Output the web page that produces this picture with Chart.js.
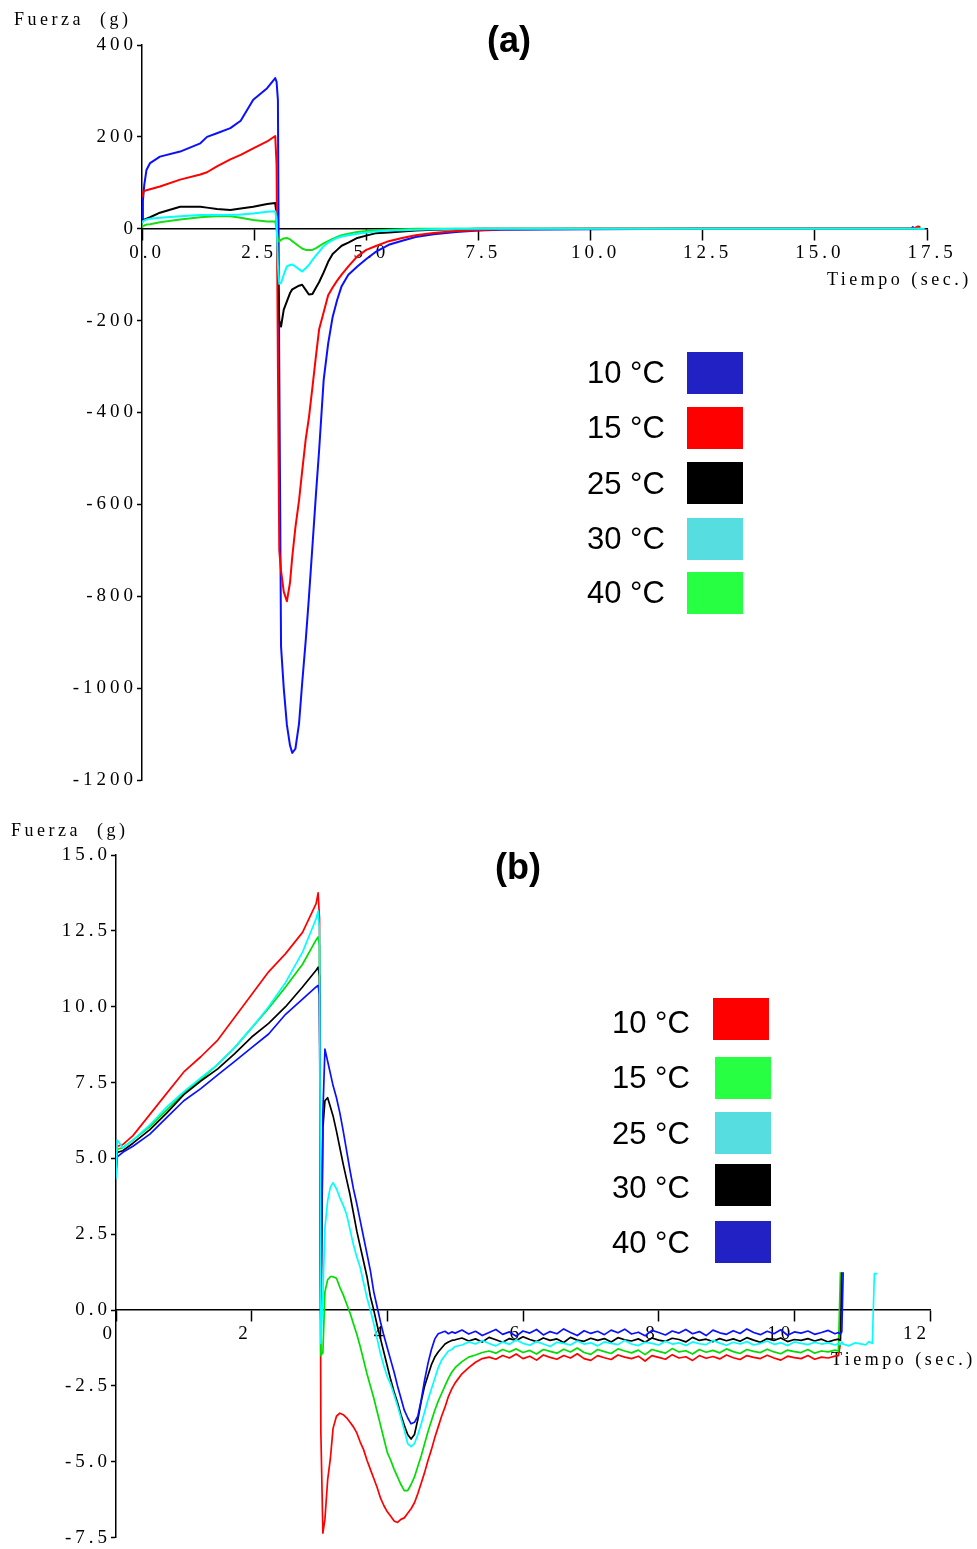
<!DOCTYPE html>
<html>
<head>
<meta charset="utf-8">
<script src="https://cdn.jsdelivr.net/npm/chart.js"></script>
<style>
  html, body { margin: 0; padding: 0; background: #fff; }
  canvas { display: block; }
</style>
</head>
<body>
<canvas id="chartA" width="977" height="800"></canvas>
<canvas id="chartB" width="977" height="749"></canvas>
<script>
/* ================= DATA (a) ================= */

const labelsA = ["10 °C", "15 °C", "25 °C", "30 °C", "40 °C"];

const timeA = [
  0, 0.02, 0.05, 0.1, 0.18, 0.4, 0.85, 1.3, 1.45, 1.67, 1.97, 2.2, 2.48, 2.79, 2.97,
  3.0, 3.03, 3.06, 3.1, 3.16, 3.23, 3.3, 3.35, 3.42, 3.5, 3.57, 3.65, 3.72, 3.8, 3.88, 3.95,
  4.05, 4.15, 4.25, 4.35, 4.45, 4.6, 4.8, 5.0, 5.2, 5.5, 5.8, 6.1, 6.5, 7.0, 7.5,
  8.0, 10.0, 12.5, 15.0, 17.0, 17.15, 17.2, 17.3, 17.35, 17.45
];

const a10 = [
  20, 60, 95, 128, 143, 157, 168, 186, 200, 208, 219, 235, 281, 306, 328,
  320, 280, -300, -910, -1000, -1080, -1125, -1141, -1132, -1078, -990, -896, -804, -690, -575, -480,
  -329, -250, -192, -155, -125, -100, -82, -66, -51, -35, -26, -18, -12, -7, -4,
  -2, -1, 0, 0, 0, 0, 5, null, null, null
];
const a15 = [
  70, 80, 82, 84, 86, 92, 107, 118, 123, 136, 151, 161, 175, 190, 202,
  140, -300, -700, -745, -790, -811, -770, -714, -650, -592, -528, -458, -412, -345, -275, -218,
  -182, -145, -128, -113, -100, -82, -60, -46, -38, -27, -20, -14, -9, -5, -3,
  -1, 0, 0, 0, 0, 0, 0, 5, 4, null
];
const a25 = [
  16, 18, 20, 22, 25, 35, 48, 48, 46, 43, 41, 44, 48, 54, 56,
  30, -100, -200, -213, -176, -158, -140, -132, -128, -124, -122, -133, -143, -142, -128, -116,
  -95, -72, -55, -46, -37, -30, -20, -15, -10, -8, -6, -4, -2, -1, 0,
  0, 0, 0, 0, 0, 0, 0, 0, null, null
];
const a30 = [
  14, 16, 18, 20, 22, 24, 27, 30, 30, 30, 30, 31, 33, 37, 38,
  20, -80, -120, -118, -100, -82, -79, -78, -82, -88, -93, -86, -79, -68, -58, -50,
  -38, -30, -25, -20, -17, -14, -11, -8, -6, -4, -3, -2, -1, 0, 0,
  0, 0, 0, 0, 0, 0, 0, 0, 0, 0
];
const a40 = [
  5, 6, 7, 9, 10, 14, 20, 25, 26, 27, 27, 24, 19, 16, 16,
  0, -24, -28, -24, -21, -20, -23, -27, -32, -38, -43, -46, -46, -46, -42, -38,
  -32, -27, -22, -18, -14, -11, -7, -5, -3, -2, -1, 0, 0, 0, 0,
  0, 0, 0, 0, 0, 0, 0, 0, 4, null
];

const xTicksA = [0, 2.5, 5, 7.5, 10, 12.5, 15, 17.5];
const xLabelsA = ["0.0", "2.5", "5.0", "7.5", "10.0", "12.5", "15.0", "17.5"];
const yTicksA = [-1200, -1000, -800, -600, -400, -200, 0, 200, 400];
const yLabelsA = ["-1200", "-1000", "-800", "-600", "-400", "-200", "0", "200", "400"];

/* ================= DATA (b) ================= */

const labelsB = ["10 °C", "15 °C", "25 °C", "30 °C", "40 °C"];

const timeB = [
  0, 0.02, 0.1, 0.25, 0.5, 0.75, 1.0, 1.25, 1.5, 1.75, 2.0, 2.25, 2.5, 2.75, 2.95, 2.98,
  3.0, 3.02, 3.05, 3.08, 3.12, 3.16,
  3.2, 3.25, 3.3, 3.35, 3.4, 3.45, 3.5, 3.55, 3.6, 3.65,
  3.7, 3.75, 3.8, 3.85, 3.9, 3.95, 4.0, 4.05, 4.1, 4.15,
  4.2, 4.25, 4.3, 4.35, 4.4, 4.45, 4.5, 4.55, 4.6, 4.65,
  4.7, 4.75, 4.8, 4.85, 4.9, 4.95, 5.0,
  5.1, 5.2, 5.3, 5.4, 5.5, 5.6, 5.7, 5.8, 5.9, 6.0,
  6.1, 6.2, 6.3, 6.4, 6.5, 6.6, 6.7, 6.8, 6.9, 7.0,
  7.1, 7.2, 7.3, 7.4, 7.5, 7.6, 7.7, 7.8, 7.9, 8.0,
  8.1, 8.2, 8.3, 8.4, 8.5, 8.6, 8.7, 8.8, 8.9, 9.0,
  9.1, 9.2, 9.3, 9.4, 9.5, 9.6, 9.7, 9.8, 9.9, 10.0,
  10.1, 10.2, 10.3, 10.4, 10.5, 10.6,
  10.65, 10.68, 10.7, 10.72, 10.8, 10.9, 11.0, 11.05, 11.1, 11.15, 11.18, 11.22
];

const b10 = [
  4.3, 5.4, 5.45, 5.75, 6.45, 7.15, 7.85, 8.35, 8.9, 9.65, 10.4, 11.15, 11.75, 12.45, 13.4, 13.75,
  12.9, -4.0, -7.35, -6.9, -5.6, -4.9,
  -3.9, -3.5, -3.4, -3.45, -3.55, -3.7, -3.85, -4.05, -4.35, -4.6,
  -4.95, -5.25, -5.55, -5.85, -6.2, -6.45, -6.65, -6.8, -6.95, -7.0,
  -6.9, -6.85, -6.7, -6.55, -6.35, -6.05, -5.7, -5.35, -4.95, -4.6,
  -4.2, -3.85, -3.5, -3.2, -2.85, -2.6, -2.4,
  -2.1, -1.9, -1.72, -1.6, -1.55, -1.62, -1.5, -1.58, -1.45, -1.6,
  -1.52, -1.65, -1.48, -1.56, -1.62, -1.5, -1.58, -1.44, -1.6, -1.66,
  -1.5, -1.57, -1.63, -1.48, -1.55, -1.6, -1.52, -1.68, -1.5, -1.56,
  -1.62, -1.47, -1.58, -1.54, -1.66, -1.5, -1.59, -1.53, -1.61, -1.48,
  -1.57, -1.63, -1.5, -1.56, -1.6, -1.49, -1.58, -1.65, -1.52, -1.57,
  -1.6, -1.5, -1.62, -1.55, -1.58, -1.52,
  -1.5, -1.1, null, null, null, null, null, null, null, null, null, null
];
const b15 = [
  4.4, 5.3, 5.35, 5.6, 6.05, 6.6, 7.15, 7.6, 8.1, 8.65, 9.3, 9.95, 10.65, 11.4, 12.2, 12.3,
  12.0, -1.5, -1.4, 0.6, 1.0, 1.1,
  1.1, 1.05, 0.75, 0.5, 0.2, -0.1, -0.45, -0.8, -1.2, -1.65,
  -2.1, -2.5, -2.9, -3.35, -3.8, -4.25, -4.7, -4.95, -5.25, -5.5,
  -5.75, -5.95, -5.95, -5.75, -5.5, -5.15, -4.8, -4.4, -4.0, -3.65,
  -3.3, -3.0, -2.75, -2.5, -2.25, -2.05, -1.9,
  -1.7, -1.55, -1.48, -1.4, -1.35, -1.42, -1.3, -1.38, -1.28, -1.4,
  -1.33, -1.45, -1.3, -1.36, -1.42, -1.29, -1.38, -1.25, -1.4, -1.46,
  -1.3, -1.37, -1.43, -1.28, -1.35, -1.41, -1.32, -1.47, -1.3, -1.36,
  -1.42, -1.27, -1.38, -1.34, -1.45, -1.3, -1.39, -1.33, -1.41, -1.28,
  -1.37, -1.43, -1.3, -1.36, -1.4, -1.29, -1.38, -1.44, -1.32, -1.37,
  -1.4, -1.3, -1.42, -1.35, -1.38, -1.32,
  -1.35, 1.25, null, null, null, null, null, null, null, null, null, null
];
const b25 = [
  4.3, 5.6, 5.35, 5.6, 6.1, 6.7, 7.2, 7.65, 8.1, 8.65, 9.3, 10.0, 10.8, 11.8, 12.9, 13.15,
  12.5, -1.1, 0.5, 2.7, 3.6, 4.05,
  4.2, 4.0, 3.7, 3.45, 3.15, 2.65, 2.15, 1.75, 1.4, 0.9,
  0.4, 0.0, -0.45, -0.95, -1.45, -1.85, -2.2, -2.45, -2.8, -3.15,
  -3.55, -3.95, -4.4, -4.5, -4.4, -4.1, -3.75, -3.35, -2.95, -2.6,
  -2.25, -1.9, -1.65, -1.5, -1.35, -1.3, -1.2,
  -1.15, -1.05, -1.12, -1.0, -1.1, -1.18, -1.05, -1.13, -0.98, -1.1,
  -1.16, -1.04, -1.12, -1.2, -1.06, -1.1, -1.15, -1.02, -1.12, -1.08,
  -1.18, -1.05, -1.1, -1.14, -1.0, -1.12, -1.17, -1.06, -1.1, -1.15,
  -1.03, -1.12, -1.08, -1.17, -1.05, -1.11, -1.14, -1.0, -1.09, -1.16,
  -1.06, -1.12, -1.04, -1.15, -1.1, -1.02, -1.13, -1.08, -1.17, -1.05,
  -1.1, -1.14, -1.06, -1.12, -1.08, -1.15,
  -1.1, -1.14, -1.05, -1.12, -1.18, -1.08, -1.12, -1.15, -1.04, -1.1, 1.2, 1.2
];
const b30 = [
  4.6, 5.2, 5.25, 5.5, 5.95, 6.5, 7.1, 7.55, 7.95, 8.45, 9.0, 9.45, 10.0, 10.65, 11.2, 11.3,
  11.0, -0.5, 6.0, 6.9, 7.0, 6.7,
  6.4, 5.9, 5.35, 4.8, 4.3, 3.8, 3.2, 2.6, 2.1, 1.6,
  1.1, 0.45, 0.0, -0.5, -0.95, -1.4, -1.85, -2.3, -2.7, -3.05,
  -3.45, -3.8, -4.1, -4.25, -4.1, -3.6, -3.0, -2.5, -2.15, -1.8,
  -1.55, -1.38, -1.25, -1.12, -1.05, -1.0, -0.98,
  -0.92, -1.02, -0.95, -1.05, -0.9, -0.98, -1.06, -0.94, -1.0, -0.88,
  -0.97, -1.04, -0.92, -1.0, -0.95, -1.07, -0.9, -0.99, -1.03, -0.93,
  -1.0, -0.94, -1.05, -0.91, -0.98, -1.02, -0.95, -1.06, -0.92, -0.99,
  -1.03, -0.93, -0.97, -1.05, -0.9, -1.0, -0.96, -1.04, -0.94, -1.01,
  -0.95, -1.03, -0.91, -0.99, -1.06, -0.94, -1.0, -0.92, -1.04, -0.97,
  -1.0, -0.94, -1.02, -0.96, -1.05, -0.98,
  -0.96, -1.0, 1.25, null, null, null, null, null, null, null, null, null
];
const b40 = [
  4.8, 5.05, 5.2, 5.4, 5.8, 6.35, 6.9, 7.3, 7.75, 8.2, 8.65, 9.1, 9.75, 10.25, 10.65, 10.7,
  10.4, -0.5, 6.5, 8.6, 8.2, 7.8,
  7.4, 7.0, 6.5, 5.9, 5.25, 4.6, 4.0, 3.5, 2.95, 2.4,
  1.85, 1.3, 0.6, 0.1, -0.4, -0.85, -1.25, -1.65, -2.05, -2.5,
  -2.9, -3.3, -3.55, -3.75, -3.7, -3.5, -2.95, -2.3, -1.75, -1.3,
  -0.95, -0.78, -0.74, -0.7, -0.78, -0.72, -0.76,
  -0.66, -0.79, -0.7, -0.84, -0.74, -0.64, -0.8, -0.72, -0.86, -0.69,
  -0.76, -0.64, -0.82, -0.71, -0.78, -0.62, -0.74, -0.84, -0.68, -0.77,
  -0.7, -0.81, -0.66, -0.75, -0.63, -0.79, -0.73, -0.85, -0.67, -0.74,
  -0.82, -0.69, -0.76, -0.64, -0.78, -0.71, -0.84, -0.66, -0.75, -0.8,
  -0.68, -0.77, -0.62, -0.74, -0.81, -0.7, -0.78, -0.65, -0.83, -0.72,
  -0.76, -0.69, -0.8, -0.74, -0.67, -0.78,
  -0.74, -0.79, -0.72, 1.25, null, null, null, null, null, null, null, null
];

const xTicksB = [0, 2, 4, 6, 8, 10, 12];
const xLabelsB = ["0", "2", "4", "6", "8", "10", "12"];
const yTicksB = [-7.5, -5, -2.5, 0, 2.5, 5, 7.5, 10, 12.5, 15];
const yLabelsB = ["-7.5", "-5.0", "-2.5", "0.0", "2.5", "5.0", "7.5", "10.0", "12.5", "15.0"];

/* ================= HELPERS ================= */

const SERIF = '"Liberation Serif", "Times New Roman", serif';
const SANS = '"Liberation Sans", Arial, sans-serif';

function points(times, vals){
  return times
    .map((t, i) => ({ x: t, y: vals[i] }))
    .filter(p => p.y !== null && p.y !== undefined);
}

function line(label, times, vals, color, legendColor, order, width){
  return {
    label: label,
    data: points(times, vals),
    borderColor: color,
    backgroundColor: color,
    legendColor: legendColor,
    borderWidth: width,
    pointRadius: 0,
    tension: 0,
    fill: false,
    order: order,
    borderJoinStyle: "round"
  };
}

function axisX(min, max, ticks, labels, align, offset){
  return {
    type: "linear",
    min: min,
    max: max,
    position: { y: 0 },
    afterFit: s => { s.height = 0; },
    afterBuildTicks: s => { s.ticks = ticks.map(v => ({ value: v })); },
    grid: { display: true, drawOnChartArea: false, drawTicks: true, tickLength: 11, tickWidth: 1.5, tickColor: "#000" },
    border: { display: true, color: "#000", width: 1.5 },
    ticks: {
      autoSkip: false, maxRotation: 0, minRotation: 0,
      align: align, labelOffset: offset, padding: 2,
      color: "#000", font: { family: SERIF, size: 19 },
      callback: (v, i) => labels[i]
    }
  };
}

function axisY(min, max, ticks, labels){
  return {
    type: "linear",
    min: min,
    max: max,
    afterFit: s => { s.width = 100; },
    afterBuildTicks: s => { s.ticks = ticks.map(v => ({ value: v })); },
    grid: { display: true, drawOnChartArea: false, drawTicks: true, tickLength: 5, tickWidth: 1.5, tickColor: "#000" },
    border: { display: true, color: "#000", width: 1.5 },
    ticks: {
      autoSkip: false, padding: 0,
      color: "#000", font: { family: SERIF, size: 19 },
      callback: (v, i) => labels[i]
    }
  };
}

// texts drawn by hand: axis titles under the data, panel title and legend on top
function textPlugin(cfg){
  return {
    id: "texts",
    beforeDraw(chart){
      chart.ctx.letterSpacing = "4px";
    },
    beforeDatasetsDraw(chart){
      const ctx = chart.ctx;
      ctx.save();
      ctx.fillStyle = "#000";
      ctx.font = "18px " + SERIF;
      ctx.textAlign = "left";
      ctx.textBaseline = "alphabetic";
      cfg.axisTitles.forEach(t => {
        ctx.letterSpacing = t.spacing + "px";
        ctx.fillText(t.text, t.x, t.y);
      });
      ctx.restore();
    },
    afterDraw(chart){
      const ctx = chart.ctx;
      ctx.save();
      ctx.letterSpacing = "0px";
      ctx.fillStyle = "#000";
      ctx.font = "bold 36px " + SANS;
      ctx.textAlign = "center";
      ctx.textBaseline = "alphabetic";
      ctx.fillText(cfg.title.text, cfg.title.x, cfg.title.y);

      ctx.font = "31px " + SANS;
      ctx.textAlign = "left";
      chart.data.datasets.forEach((ds, i) => {
        const row = cfg.legend[i];
        ctx.fillStyle = "#000";
        ctx.fillText(ds.label, cfg.legendTextX, row.ty);
        ctx.fillStyle = ds.legendColor;
        ctx.fillRect(row.bx, row.by, 56, 42);
      });
      ctx.restore();
    }
  };
}

/* ================= CHART (a) ================= */

new Chart(document.getElementById("chartA"), {
  type: "line",
  data: {
    datasets: [
      line(labelsA[0], timeA, a10, "#0a10ff", "#2222c4", 4, 2),
      line(labelsA[1], timeA, a15, "#ff0000", "#ff0000", 1, 2),
      line(labelsA[2], timeA, a25, "#000000", "#000000", 3, 2),
      line(labelsA[3], timeA, a30, "#00ffff", "#55dde0", 0, 2),
      line(labelsA[4], timeA, a40, "#14e014", "#26ff42", 2, 2)
    ]
  },
  options: {
    responsive: false,
    animation: false,
    layout: { padding: { left: 42, right: 50, top: 45, bottom: 20 } },
    plugins: { legend: { display: false }, tooltip: { enabled: false } },
    scales: {
      x: axisX(0, 17.5, xTicksA, xLabelsA, "center", 5),
      y: axisY(-1200, 400, yTicksA, yLabelsA)
    }
  },
  plugins: [textPlugin({
    axisTitles: [
      { text: "Fuerza  (g)", x: 14, y: 25, spacing: 3.5 },
      { text: "Tiempo (sec.)", x: 827, y: 285, spacing: 3.5 }
    ],
    title: { text: "(a)", x: 509, y: 52 },
    legendTextX: 587,
    legend: [
      { ty: 383, bx: 687, by: 352 },
      { ty: 438, bx: 687, by: 407 },
      { ty: 494, bx: 687, by: 462 },
      { ty: 549, bx: 687, by: 518 },
      { ty: 603, bx: 687, by: 572 }
    ]
  })]
});

/* ================= CHART (b) ================= */

new Chart(document.getElementById("chartB"), {
  type: "line",
  data: {
    datasets: [
      line(labelsB[0], timeB, b10, "#ff0000", "#ff0000", 4, 1.7),
      line(labelsB[1], timeB, b15, "#00dd00", "#26ff42", 3, 1.7),
      line(labelsB[2], timeB, b25, "#00ffff", "#55dde0", 0, 1.7),
      line(labelsB[3], timeB, b30, "#000000", "#000000", 2, 1.7),
      line(labelsB[4], timeB, b40, "#0a10ff", "#2222c4", 1, 1.7)
    ]
  },
  options: {
    responsive: false,
    animation: false,
    layout: { padding: { left: 16, right: 47, top: 55, bottom: 8 } },
    plugins: { legend: { display: false }, tooltip: { enabled: false } },
    scales: {
      x: axisX(0, 12, xTicksB, xLabelsB, "end", 0),
      y: axisY(-7.5, 15, yTicksB, yLabelsB)
    }
  },
  plugins: [textPlugin({
    axisTitles: [
      { text: "Fuerza  (g)", x: 11, y: 36, spacing: 3.5 },
      { text: "Tiempo (sec.)", x: 831, y: 565, spacing: 3.5 }
    ],
    title: { text: "(b)", x: 518, y: 79 },
    legendTextX: 612,
    legend: [
      { ty: 233, bx: 713, by: 198 },
      { ty: 288, bx: 715, by: 257 },
      { ty: 344, bx: 715, by: 312 },
      { ty: 398, bx: 715, by: 364 },
      { ty: 453, bx: 715, by: 421 }
    ]
  })]
});
</script>
</body>
</html>
